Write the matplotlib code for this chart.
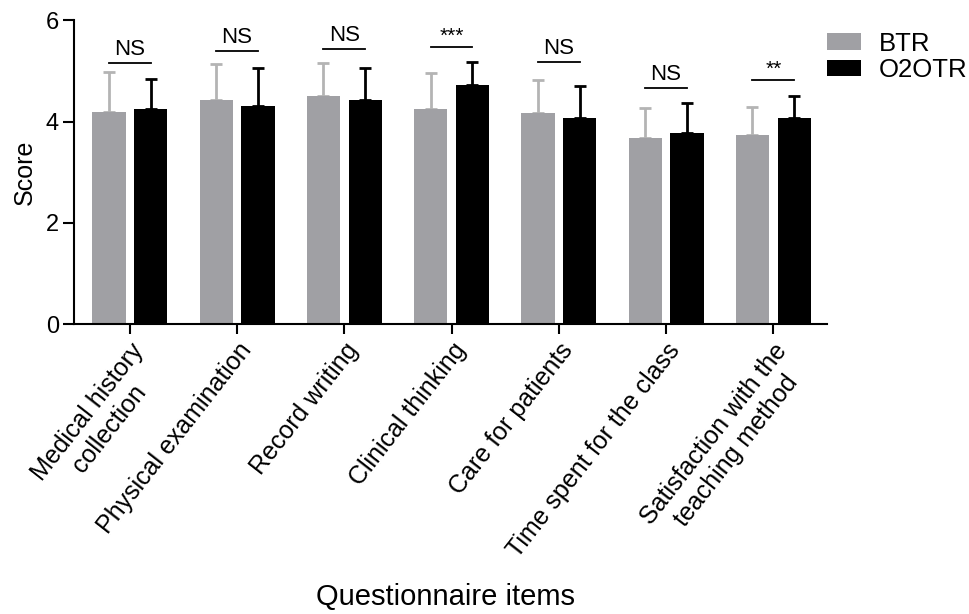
import numpy as np
import matplotlib
matplotlib.use("Agg")
import matplotlib.pyplot as plt

plt.rcParams['font.family'] = ['Liberation Sans', 'DejaVu Sans']

items = ["Medical history\ncollection", "Physical examination", "Record writing",
         "Clinical thinking", "Care for patients", "Time spent for the class",
         "Satisfaction with the\nteaching method"]
btr_mean = [4.19, 4.43, 4.50, 4.24, 4.16, 3.67, 3.74]
btr_sd = [0.79, 0.70, 0.66, 0.71, 0.67, 0.59, 0.55]
o2o_mean = [4.24, 4.31, 4.42, 4.72, 4.07, 3.78, 4.07]
o2o_sd = [0.60, 0.75, 0.64, 0.46, 0.63, 0.58, 0.43]
sig_labels = ["NS", "NS", "NS", "***", "NS", "NS", "**"]
sig_heights = [5.16, 5.39, 5.44, 5.47, 5.18, 4.66, 4.82]

fig = plt.figure(figsize=(9.69, 6.14), dpi=100)
ax = fig.add_axes([0.0764, 0.472, 0.777, 0.495])

x = np.arange(len(items))
w = 0.31
off = 0.195
gray = "#a0a0a4"

ax.bar(x - off, btr_mean, w, color=gray, label="BTR", zorder=2)
ax.bar(x + off, o2o_mean, w, color="black", label="O2OTR", zorder=2)
ax.errorbar(x - off, btr_mean, yerr=[np.zeros(len(x)), btr_sd], fmt="none",
            ecolor="#b4b4b4", elinewidth=2, capsize=4, capthick=2, zorder=1)
ax.errorbar(x + off, o2o_mean, yerr=[np.zeros(len(x)), o2o_sd], fmt="none",
            ecolor="black", elinewidth=2, capsize=4, capthick=2, zorder=1)

for i, (lab, h) in enumerate(zip(sig_labels, sig_heights)):
    ax.plot([i - off, i + off], [h, h], color="black", lw=1.3)
    if lab == "NS":
        ax.text(i, h + 0.06, lab, ha="center", va="bottom", fontsize=16)
    else:
        ax.text(i, h + 0.02, lab, ha="center", va="bottom", fontsize=15)

ax.set_xlim(-0.52, 6.5)
ax.set_ylim(0, 6)
ax.set_yticks([0, 2, 4, 6])
ax.set_xticks(x)
ax.set_xticklabels(items, rotation=52, ha="right", rotation_mode="anchor",
                   multialignment="center", fontsize=18)
ax.tick_params(axis="y", labelsize=17, width=1.5, length=8, pad=3)
ax.tick_params(axis="x", width=1.5, length=7)
for s in ["top", "right"]:
    ax.spines[s].set_visible(False)
for s in ["left", "bottom"]:
    ax.spines[s].set_linewidth(1.5)

ax.set_ylabel("Score", fontsize=18, labelpad=6)
fig.text(0.46, 0.005, "Questionnaire items", ha="center", va="bottom", fontsize=21)

fig.legend(loc="upper left", bbox_to_anchor=(0.848, 0.957), frameon=False,
           fontsize=18.5, handlelength=1.32, handleheight=0.62, labelspacing=0.1,
           handletextpad=0.7, borderaxespad=0, borderpad=0.2)

fig.savefig("out.png", dpi=100)
